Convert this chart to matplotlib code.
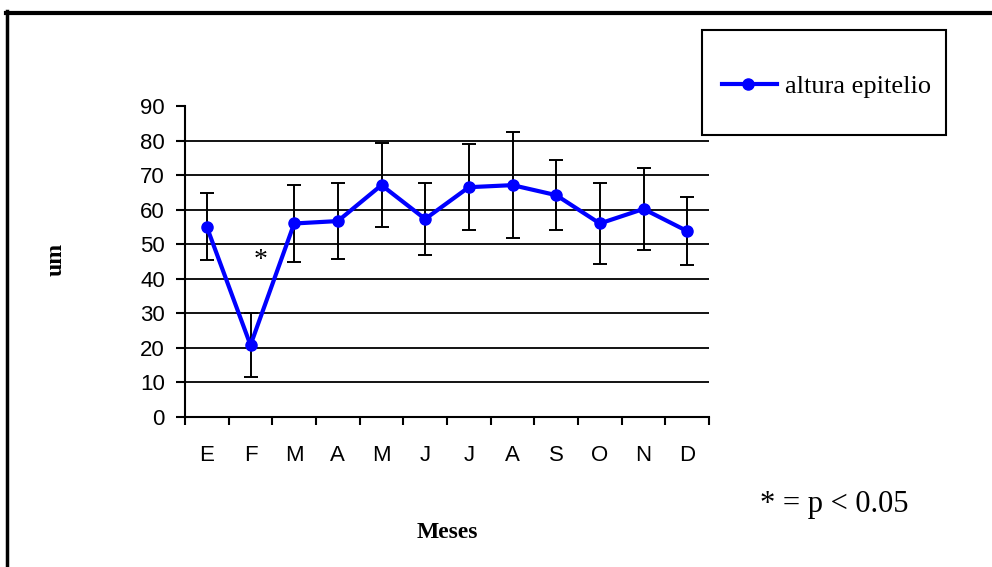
import matplotlib
matplotlib.use("Agg")
import matplotlib.pyplot as plt
from matplotlib.patches import Rectangle
from matplotlib.lines import Line2D

months = ["E", "F", "M", "A", "M", "J", "J", "A", "S", "O", "N", "D"]
altura = [55.0, 20.8, 56.0, 56.7, 67.1, 57.3, 66.5, 67.1, 64.2, 56.0, 60.2, 53.8]
err = [9.7, 9.2, 11.0, 11.0, 12.1, 10.3, 12.5, 15.4, 10.2, 11.8, 12.0, 9.8]
yticks = [0, 10, 20, 30, 40, 50, 60, 70, 80, 90]
series_label = "altura epitelio"

W, H = 992, 567
fig = plt.figure(figsize=(W/100, H/100), dpi=100)
fig.patch.set_facecolor("white")

def fx(px):
    return px / W

def fy(py):
    return 1 - py / H

# outer frame (cropped at right and bottom)
fig.add_artist(Line2D([fx(6), 1.0], [fy(12.5)]*2, color="black", lw=3, transform=fig.transFigure))
fig.add_artist(Line2D([fx(7)]*2, [0, fy(11)], color="black", lw=2.5, transform=fig.transFigure))

ax = fig.add_axes([fx(185), fy(417), 524/W, 311/H])
x = list(range(len(months)))
ax.set_xlim(-0.5, len(months) - 0.5)
ax.set_ylim(0, 90)

for v in yticks[1:-1]:
    ax.axhline(v, color="black", lw=1.3, zorder=1)

ax.errorbar(x, altura, yerr=err, fmt="none", ecolor="black", elinewidth=1.4,
            capsize=4.7, capthick=1.4, zorder=2)
ax.plot(x, altura, color="#0000FF", lw=3, marker="o", markersize=8, zorder=3)

ax.spines["top"].set_visible(False)
ax.spines["right"].set_visible(False)
ax.spines["left"].set_linewidth(1.5)
ax.spines["bottom"].set_linewidth(1.5)

ax.set_yticks(yticks)
ax.set_yticklabels([str(v) for v in yticks], fontsize=16, family="Liberation Sans")
ax.set_xticks([i - 0.5 for i in range(len(months) + 1)])
ax.set_xticklabels([])
ax.set_xticks(x, minor=True)
ax.set_xticklabels(months, minor=True, fontsize=16, family="Liberation Sans")
ax.tick_params(axis="x", which="minor", length=0, pad=20)
ax.tick_params(axis="x", which="major", direction="out", length=6, width=1.5)
ax.tick_params(axis="y", direction="out", length=6.5, width=1.5, pad=8)

ax.text(1.24, 43.4, "*", fontsize=20, family="Liberation Serif", ha="center", va="baseline")

fig.text(fx(56), fy(259.5), "um", rotation=90, fontsize=17, fontweight="bold",
         family="Liberation Serif", ha="center", va="center")
fig.text(fx(447), fy(538), "Meses", fontsize=17, fontweight="bold",
         family="Liberation Serif", ha="center", va="baseline")
fig.text(fx(834), fy(512), "* = p < 0.05", fontsize=22,
         family="Liberation Serif", ha="center", va="baseline")

# legend box
fig.add_artist(Rectangle((fx(702), fy(135)), 244/W, 105/H, transform=fig.transFigure,
                         fill=False, edgecolor="black", lw=1.5))
fig.add_artist(Line2D([fx(722), fx(777)], [fy(84)]*2, color="#0000FF", lw=3,
                      transform=fig.transFigure))
fig.add_artist(Line2D([fx(748)], [fy(84)], color="#0000FF", marker="o", markersize=8,
                      transform=fig.transFigure))
fig.text(fx(785), fy(93), series_label, fontsize=19, family="Liberation Serif",
         ha="left", va="baseline")

fig.savefig("out.png", dpi=100)
